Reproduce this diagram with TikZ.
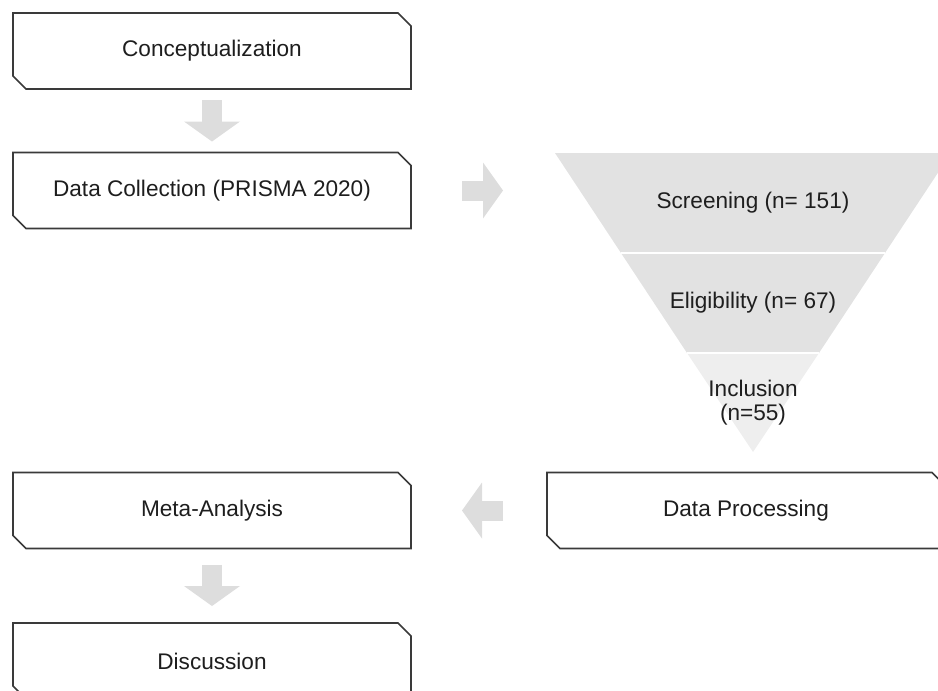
\documentclass[tikz,border=0pt]{standalone}
\usepackage{fontspec}
\setmainfont{Liberation Sans}
\usetikzlibrary{shapes.misc,arrows.meta,calc}
\definecolor{boxline}{HTML}{3A3A3A}
\definecolor{textgray}{HTML}{1E1E1E}
\definecolor{arrowgray}{HTML}{DDDDDD}
\definecolor{funneldark}{HTML}{E2E2E2}
\definecolor{funnellight}{HTML}{EEEEEE}
\def\boxw{398pt}
\def\boxh{76pt}

\begin{document}
\begin{tikzpicture}[x=1pt,y=-1pt,
    every node/.style={text=textgray,font=\fontsize{22.6}{24}\selectfont},
    stage/.style={chamfered rectangle,chamfered rectangle corners={north east,south west},
      chamfered rectangle xsep=6.5pt,chamfered rectangle ysep=6.5pt,
      draw=boxline,line width=1.6pt,fill=white,inner sep=0pt,outer sep=0pt,
      minimum width=\boxw,minimum height=\boxh},
    blockarrow/.style={arrowgray,line width=20pt,
      -{Triangle[length=20pt,width=56pt,line width=0pt]}}]
		% Fix page size to the reference picture.
		\useasboundingbox (0,0) rectangle (938,691);
		\clip (0,0) rectangle (938,691);

		% Funnel with its three layers.
		\fill[funneldark] (555,153) -- (951,153) -- (885,253) -- (621,253) -- cycle;
		\fill[funneldark] (621,253) -- (885,253) -- (819,353) -- (687,353) -- cycle;
		\fill[funnellight] (687,353) -- (819,353) -- (753,452) -- cycle;
		\draw[white,line width=1.5pt] (621,253) -- (885,253);
		\draw[white,line width=1.5pt] (687,353) -- (819,353);
		\node (screen) at (753,203) {Screening (n= 151)};
		\node (elig) at (753,303) {Eligibility (n= 67)};
		\node[align=center] (incl) at (753,403) {Inclusion\\(n=55)};

		% Stage boxes.
		\node[stage] (concept) at (212,51) {Conceptualization};
		\node[stage] (collect) at (212,190.5) {Data Collection (PRISMA 2020)};
		\node[stage] (meta) at (212,510.5) {Meta-Analysis};
		\node[stage] (proc) at (746,510.5) {Data Processing};
		\node[stage] (discuss) at (212,661) {Discussion};

		% Gray block arrows between the stages.
		\draw[blockarrow] ($(concept.south)+(0,11)$) -- ($(collect.north)+(0,-11)$);
		\draw[blockarrow] ($(collect.east)+(51,0)$) -- ($(collect.east)+(92,0)$);
		\draw[blockarrow] ($(proc.west)+(-44,0)$) -- ($(meta.east)+(51,0)$);
		\draw[blockarrow] ($(meta.south)+(0,16)$) -- ($(discuss.north)+(0,-17)$);
\end{tikzpicture}
\end{document}
